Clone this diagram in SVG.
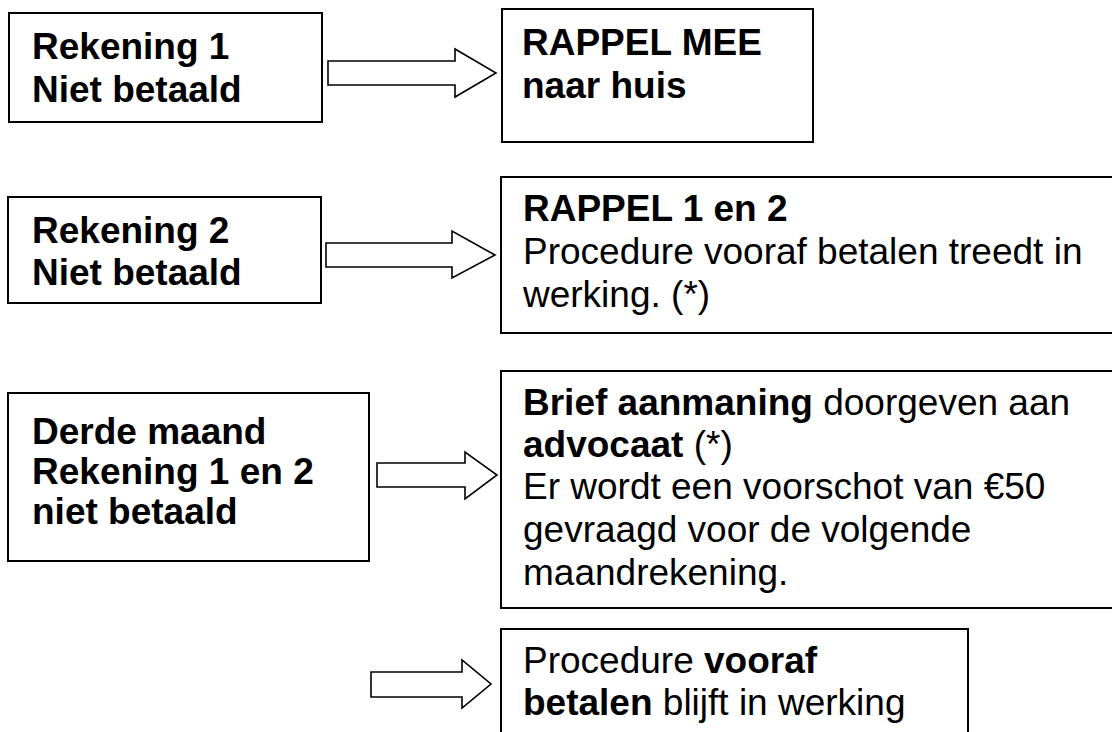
<svg xmlns="http://www.w3.org/2000/svg" width="1112" height="732" viewBox="0 0 1112 732">
<style>
.box{fill:#fff;stroke:#000;stroke-width:2}
.arr{fill:#fff;stroke:#000;stroke-width:1.6;stroke-linejoin:miter}
text{font-family:"Liberation Sans",Arial,sans-serif;font-size:37px;fill:#000}
.b{font-weight:bold}
</style>
<rect width="1112" height="732" fill="#fff"/>
<g id="n1"><rect class="box" x="9" y="13" width="313" height="109"/>
<text class="b" x="32" y="59">Rekening 1</text><text class="b" x="32" y="102">Niet betaald</text></g>
<g id="n2"><rect class="box" x="502" y="9" width="311" height="133"/>
<text class="b" x="522" y="55">RAPPEL MEE</text><text class="b" x="522" y="98">naar huis</text></g>
<g id="n3"><rect class="box" x="8" y="197" width="313" height="106"/>
<text class="b" x="32" y="243">Rekening 2</text><text class="b" x="32" y="285">Niet betaald</text></g>
<g id="n4"><rect class="box" x="501" y="177" width="620" height="156"/>
<text class="b" x="523" y="221">RAPPEL 1 en 2</text><text x="523" y="264">Procedure vooraf betalen treedt in</text><text x="523" y="307">werking. (*)</text></g>
<g id="n5"><rect class="box" x="8" y="393" width="361" height="168"/>
<text class="b" x="32" y="444">Derde maand</text><text class="b" x="32" y="484">Rekening 1 en 2</text><text class="b" x="32" y="524">niet betaald</text></g>
<g id="n6"><rect class="box" x="501" y="371" width="620" height="237"/>
<text x="523" y="415"><tspan class="b">Brief aanmaning</tspan> doorgeven aan</text>
<text x="523" y="457"><tspan class="b">advocaat</tspan> (*)</text>
<text x="523" y="499">Er wordt een voorschot van €50</text>
<text x="523" y="542">gevraagd voor de volgende</text>
<text x="523" y="585">maandrekening.</text></g>
<g id="n7"><rect class="box" x="501" y="629" width="467" height="120"/>
<text x="523" y="673">Procedure <tspan class="b">vooraf</tspan></text>
<text x="523" y="715"><tspan class="b">betalen</tspan> blijft in werking</text></g>
<g id="connectors">
<path class="arr" d="M328,61 H455 V49 L496,73 L455,97 V85 H328 Z"/>
<path class="arr" d="M326,243 H452 V231 L495,255 L452,278 V267 H326 Z"/>
<path class="arr" d="M377,463 H465 V452 L497,475 L465,499 V487 H377 Z"/>
<path class="arr" d="M371,672 H462 V660 L491,684 L462,708 V697 H371 Z"/>
</g>
</svg>
